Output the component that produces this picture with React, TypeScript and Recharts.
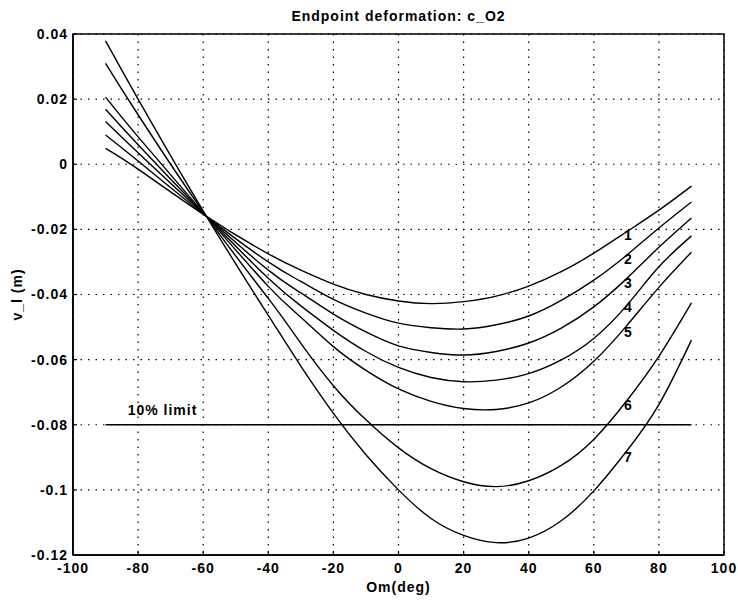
import React from "react"
import {
  LineChart,
  Line,
  XAxis,
  YAxis,
  CartesianGrid,
  ReferenceArea,
  ReferenceLine,
  ReferenceDot,
} from "recharts"

document.body.style.margin = "0"

// angle samples (deg)
const omDeg = [-90, -80, -59, -40, -30, -20, -10, 0, 10, 20, 30, 40, 50, 60, 70, 80, 90]

// v_l (m) for curves 1..7
const curve1 = [0.0049, -0.0015, -0.016, -0.0275, -0.0325, -0.0368, -0.04, -0.042, -0.0428, -0.0422, -0.0405, -0.0374, -0.033, -0.0273, -0.0208, -0.0141, -0.0067]
const curve2 = [0.009, 0.001, -0.016, -0.03, -0.036, -0.0415, -0.0457, -0.0488, -0.0502, -0.0506, -0.0493, -0.0466, -0.0418, -0.0356, -0.028, -0.0196, -0.0116]
const curve3 = [0.0131, 0.0035, -0.016, -0.0325, -0.0395, -0.046, -0.0515, -0.0558, -0.0578, -0.0586, -0.0575, -0.0549, -0.0503, -0.0438, -0.0352, -0.0255, -0.0165]
const curve4 = [0.0169, 0.006, -0.016, -0.035, -0.0435, -0.051, -0.0575, -0.0624, -0.0655, -0.0668, -0.0663, -0.0643, -0.0601, -0.0535, -0.0435, -0.0315, -0.022]
const curve5 = [0.0206, 0.0084, -0.016, -0.0375, -0.047, -0.056, -0.0633, -0.069, -0.0728, -0.075, -0.0753, -0.0733, -0.0684, -0.0605, -0.0497, -0.0378, -0.027]
const curve6 = [0.031, 0.0152, -0.016, -0.0412, -0.055, -0.068, -0.0785, -0.0871, -0.0935, -0.0975, -0.099, -0.0972, -0.0925, -0.0845, -0.0728, -0.059, -0.0426]
const curve7 = [0.0379, 0.02, -0.016, -0.0464, -0.062, -0.0765, -0.0892, -0.1, -0.1088, -0.114, -0.1162, -0.1148, -0.1095, -0.1003, -0.0882, -0.0738, -0.054]
const curves = [curve1, curve2, curve3, curve4, curve5, curve6, curve7]

// curve number labels
const curveNames = ["1", "2", "3", "4", "5", "6", "7"]
const curveLabelX = [70.6, 70.6, 70.6, 70.6, 70.6, 70.6, 70.6]
const curveLabelY = [-0.0217, -0.029, -0.0365, -0.0438, -0.0515, -0.074, -0.09]

// 10% limit line
const limitValue = -0.08
const limitFrom = -90
const limitTo = 90
const limitText = "10% limit"
const limitTextX = -72.5
const limitTextY = -0.0755

const xTicks = [-100, -80, -60, -40, -20, 0, 20, 40, 60, 80, 100]
const yTicks = [-0.12, -0.1, -0.08, -0.06, -0.04, -0.02, 0, 0.02, 0.04]
const yTickLabels = ["-0.12", "-0.1", "-0.08", "-0.06", "-0.04", "-0.02", "0", "0.02", "0.04"]

const title = "Endpoint deformation: c_O2"
const xTitle = "Om(deg)"
const yTitle = "v_l (m)"

const data = omDeg.map((x, i) => {
  const row: Record<string, number> = { x }
  curves.forEach((c, k) => {
    row[`c${k + 1}`] = c[i]
  })
  return row
})

const font = "'Liberation Sans', Arial, Helvetica, sans-serif"
const tickStyle = { fill: "#000", fontSize: 14, fontWeight: 700, fontFamily: font, letterSpacing: 1 }
const tickLineStyle = { stroke: "#000", strokeWidth: 1.2 }

const textAt = (txt: string, dx = 0, dy = 0) => (props: any) => (
  <text
    x={props.cx + dx}
    y={props.cy + dy}
    textAnchor="middle"
    dominantBaseline="central"
    fontSize={14}
    fontWeight={700}
    fontFamily={font}
    letterSpacing={1}
    fill="#000"
  >
    {txt}
  </text>
)

export default function App() {
  return (
    <LineChart
      width={738}
      height={603}
      data={data}
      margin={{ top: 34, right: 14, bottom: 0, left: 0 }}
    >
      <CartesianGrid stroke="#000" strokeDasharray="1.5 6" strokeWidth={1.2} />
      <XAxis
        dataKey="x"
        type="number"
        domain={[-100, 100]}
        ticks={xTicks}
        height={48}
        tickSize={-4}
        tickMargin={12}
        tickLine={tickLineStyle}
        axisLine={{ stroke: "#000", strokeWidth: 1.5 }}
        tick={tickStyle}
        interval={0}
      />
      <XAxis
        xAxisId="top"
        orientation="top"
        dataKey="x"
        type="number"
        domain={[-100, 100]}
        ticks={xTicks}
        height={0}
        tickSize={-4}
        tickLine={tickLineStyle}
        axisLine={false}
        tick={false}
        interval={0}
      />
      <YAxis
        type="number"
        domain={[-0.12, 0.04]}
        ticks={yTicks}
        width={73}
        tickSize={-4}
        tickMargin={9}
        tickLine={tickLineStyle}
        axisLine={{ stroke: "#000", strokeWidth: 1.5 }}
        tick={tickStyle}
        interval={0}
        tickFormatter={(v: number, i: number) => yTickLabels[i] ?? String(v)}
        label={{
          content: ({ viewBox }: any) => {
            const cx = viewBox.x + 17
            const cy = viewBox.y + viewBox.height / 2
            return (
              <text
                x={cx}
                y={cy}
                transform={`rotate(-90, ${cx}, ${cy})`}
                textAnchor="middle"
                dominantBaseline="central"
                fontSize={14}
                fontWeight={700}
                fontFamily={font}
                letterSpacing={1}
                fill="#000"
              >
                {yTitle}
              </text>
            )
          },
        }}
      />
      <YAxis
        yAxisId="right"
        orientation="right"
        type="number"
        domain={[-0.12, 0.04]}
        ticks={yTicks}
        width={0}
        tickSize={-4}
        tickLine={tickLineStyle}
        axisLine={false}
        tick={false}
        interval={0}
      />
      <ReferenceArea
        x1={-100}
        x2={100}
        y1={-0.12}
        y2={0.04}
        fill="none"
        stroke="#000"
        strokeWidth={1.5}
        label={{
          content: ({ viewBox }: any) => (
            <g fontSize={14} fontWeight={700} fontFamily={font} letterSpacing={1} fill="#000">
              <text x={viewBox.x + viewBox.width / 2} y={viewBox.y - 13} textAnchor="middle">
                {title}
              </text>
              <text x={viewBox.x + viewBox.width / 2} y={viewBox.y + viewBox.height + 37} textAnchor="middle">
                {xTitle}
              </text>
            </g>
          ),
        }}
      />
      <ReferenceLine
        segment={[
          { x: limitFrom, y: limitValue },
          { x: limitTo, y: limitValue },
        ]}
        stroke="#000"
        strokeWidth={1.5}
      />
      <ReferenceDot x={limitTextX} y={limitTextY} r={0} shape={textAt(limitText)} />
      {curves.map((_, k) => (
        <Line
          key={k}
          dataKey={`c${k + 1}`}
          type="natural"
          stroke="#000"
          strokeWidth={1.4}
          dot={false}
          activeDot={false}
          isAnimationActive={false}
        />
      ))}
      {curveNames.map((n, k) => (
        <ReferenceDot key={n} x={curveLabelX[k]} y={curveLabelY[k]} r={0} shape={textAt(n)} />
      ))}
    </LineChart>
  )
}
